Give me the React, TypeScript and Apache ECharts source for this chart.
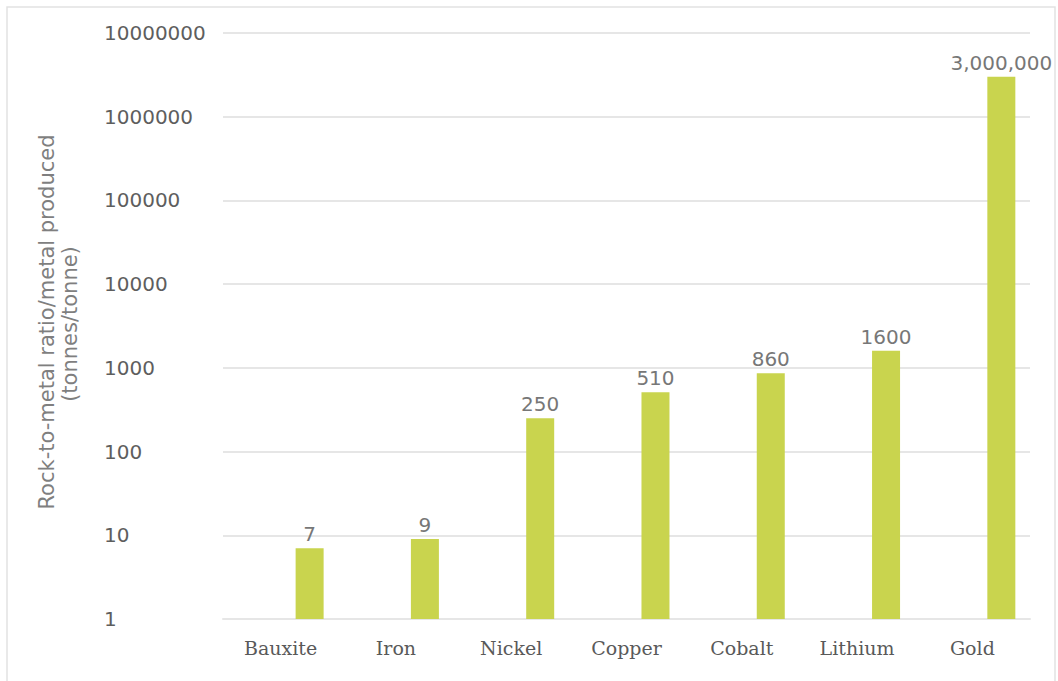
import React, { useEffect, useRef } from "react";
import * as echarts from "echarts";

const categories = ["Bauxite", "Iron", "Nickel", "Copper", "Cobalt", "Lithium", "Gold"];
const values = [7, 9, 250, 510, 860, 1600, 3000000];
const placeholder = [null, null, null, null, null, null, null];
const yMin = 1;
const yMax = 10000000;
const yTitleLines = ["Rock-to-metal ratio/metal produced", "(tonnes/tonne)"];

export default function App() {
  const ref = useRef<HTMLDivElement>(null);
  useEffect(() => {
    if (!ref.current) return;
    const chart = echarts.init(ref.current, null, { renderer: "svg" });
    chart.setOption({
      animation: false,
      backgroundColor: "#ffffff",
      grid: { left: 223, right: 28, top: 33, bottom: 62, containLabel: false },
      xAxis: {
        type: "category",
        data: categories,
        axisLine: { show: true, lineStyle: { color: "#e6e6e6", width: 2 } },
        axisTick: { show: false },
        axisLabel: {
          color: "#595959",
          fontFamily: "DejaVu Serif",
          fontSize: 19,
          margin: 19,
        },
      },
      yAxis: {
        type: "log",
        logBase: 10,
        min: yMin,
        max: yMax,
        axisLine: { show: false },
        axisTick: { show: false },
        splitLine: { show: true, lineStyle: { color: "#e6e6e6", width: 2 } },
        axisLabel: {
          color: "#5e5e5e",
          fontFamily: "DejaVu Sans",
          fontSize: 20,
          align: "left",
          margin: 119,
          formatter: (v: number) => String(Math.round(v)),
        },
      },
      series: [
        {
          type: "bar",
          data: placeholder,
          barWidth: 28,
          barGap: "107%",
          itemStyle: { color: "#c9d44e" },
        },
        {
          type: "bar",
          data: values,
          barWidth: 28,
          barGap: "107%",
          itemStyle: { color: "#c9d44e" },
          label: {
            show: true,
            position: "top",
            distance: 4,
            color: "#777777",
            fontFamily: "DejaVu Sans",
            fontSize: 20,
            formatter: (p: any) =>
              p.value >= 1000000 ? Number(p.value).toLocaleString("en-US") : String(p.value),
          },
        },
      ],
      graphic: [
        {
          type: "rect",
          silent: true,
          shape: { x: 7, y: 7, width: 1048, height: 700 },
          style: { fill: "none", stroke: "#e2e2e2", lineWidth: 1.5 },
          z: -1,
        },
        {
          type: "text",
          x: 47,
          y: 322,
          rotation: Math.PI / 2,
          style: {
            text: yTitleLines[0],
            fill: "#7f7f7f",
            font: '21px "DejaVu Sans"',
            textAlign: "center",
            textVerticalAlign: "middle",
          },
        },
        {
          type: "text",
          x: 70,
          y: 324,
          rotation: Math.PI / 2,
          style: {
            text: yTitleLines[1],
            fill: "#7f7f7f",
            font: '21px "DejaVu Sans"',
            textAlign: "center",
            textVerticalAlign: "middle",
          },
        },
      ],
    });
    return () => chart.dispose();
  }, []);
  return (
    <div
      ref={ref}
      style={{ position: "fixed", left: 0, top: 0, width: 1058, height: 681 }}
    />
  );
}
